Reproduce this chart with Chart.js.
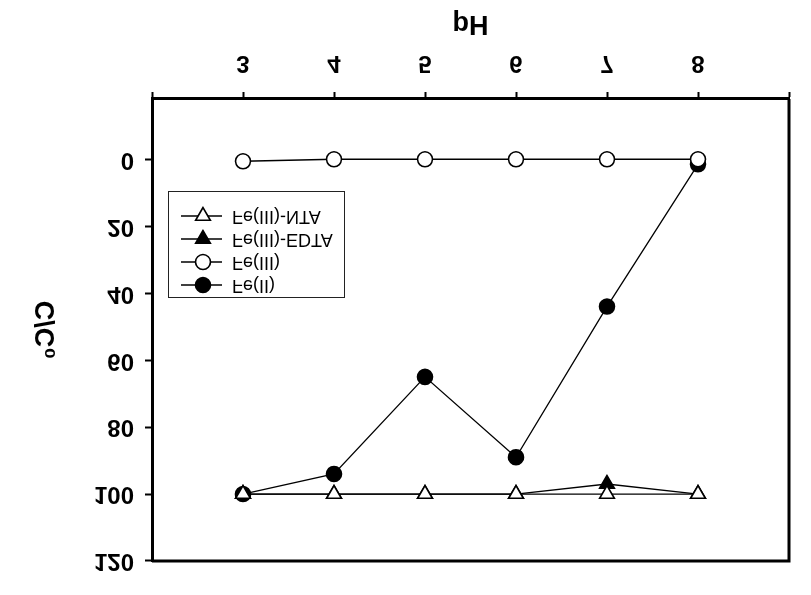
<!DOCTYPE html>
<html>
<head>
<meta charset="utf-8">
<script src="https://cdn.jsdelivr.net/npm/chart.js@4.4.0/dist/chart.umd.min.js"></script>
<style>
    html, body { margin: 0; padding: 0; background: #fff; }
    /* the reference is a vertically mirrored figure */
    #phChart { display: block; transform: scaleY(-1); }
</style>
</head>
<body>
<canvas id="phChart" width="811" height="595"></canvas>
<script>
// ============================================
// DATA
// ============================================

const phValues = [3, 4, 5, 6, 7, 8];
const feNTA = [100, 100, 100, 100, 100, 100];
const feEDTA = [100, 100, 100, 100, 97, 100];
const fe3 = [0.6, 0, 0, 0, 0, 0];
const fe2 = [100, 94, 65, 89, 44, 1.5];

const xTickValues = [2, 3, 4, 5, 6, 7, 8, 9];
const xTickLabels = ['', '3', '4', '5', '6', '7', '8', ''];
const yTickValues = [0, 20, 40, 60, 80, 100, 120];

const seriesLabels = ['Fe(III)-NTA', 'Fe(III)-EDTA', 'Fe(III)', 'Fe(II)'];

const tickFont = "'Liberation Sans', Arial, sans-serif";
const plainFont = "'Liberation Sans', Arial, sans-serif";

function toPoints(values) {
    return values.map((v, i) => ({ x: phValues[i], y: v }));
}

function makeSeries(label, values, style, filled) {
    return {
        label: label,
        data: toPoints(values),
        borderColor: '#000',
        borderWidth: 1.3,
        pointStyle: style,
        pointRotation: style === 'triangle' ? 180 : 0,
        pointRadius: style === 'triangle' ? 8.5 : 7.5,
        pointBorderWidth: 1.6,
        pointBorderColor: '#000',
        pointBackgroundColor: filled ? '#000' : '#fff',
        fill: false,
        tension: 0
    };
}

// ============================================
// PLUGINS
// ============================================

// closes the frame on the two sides without an axis
const framePlugin = {
    id: 'frame',
    afterDatasetsDraw(chart) {
        const { ctx, chartArea: a } = chart;
        ctx.save();
        ctx.strokeStyle = '#000';
        ctx.lineWidth = 3;
        ctx.beginPath();
        ctx.moveTo(a.left, a.top);
        ctx.lineTo(a.right, a.top);
        ctx.lineTo(a.right, a.bottom);
        ctx.stroke();
        ctx.restore();
    }
};

// boxed legend with line segment through each marker
const boxLegend = {
    id: 'boxLegend',
    afterDraw(chart) {
        const { ctx, chartArea: a } = chart;
        const left = a.left + 16;
        const top = a.top + 263;
        const w = 176, h = 106;
        ctx.save();
        ctx.fillStyle = '#fff';
        ctx.fillRect(left, top, w, h);
        ctx.strokeStyle = '#222';
        ctx.lineWidth = 1;
        ctx.strokeRect(left + 0.5, top + 0.5, w, h);

        const items = chart.data.datasets.slice().reverse();
        items.forEach((ds, i) => {
            const y = top + 13 + i * 23;
            ctx.strokeStyle = '#000';
            ctx.lineWidth = 1.3;
            ctx.beginPath();
            ctx.moveTo(left + 13, y);
            ctx.lineTo(left + 54, y);
            ctx.stroke();
            ctx.fillStyle = ds.pointBackgroundColor;
            ctx.strokeStyle = '#000';
            ctx.lineWidth = 1.6;
            Chart.helpers.drawPoint(ctx, {
                pointStyle: ds.pointStyle,
                rotation: ds.pointRotation,
                radius: ds.pointRadius,
                borderWidth: 1.6
            }, left + 35, y);
            ctx.fillStyle = '#000';
            ctx.font = '18px ' + plainFont;
            ctx.textBaseline = 'middle';
            ctx.fillText(ds.label, left + 64, y);
        });
        ctx.restore();
    }
};

// ============================================
// CHART
// ============================================

const ctx = document.getElementById('phChart').getContext('2d');

new Chart(ctx, {
    type: 'line',
    data: {
        datasets: [
            makeSeries(seriesLabels[0], feNTA, 'triangle', false),
            makeSeries(seriesLabels[1], feEDTA, 'triangle', true),
            makeSeries(seriesLabels[2], fe3, 'circle', false),
            makeSeries(seriesLabels[3], fe2, 'circle', true)
        ]
    },
    options: {
        responsive: false,
        animation: false,
        layout: { padding: { top: 34, right: 22, left: 0, bottom: 0 } },
        plugins: {
            legend: { display: false },
            tooltip: { enabled: false }
        },
        scales: {
            x: {
                type: 'linear',
                min: 2,
                max: 9,
                afterBuildTicks: (scale) => { scale.ticks = xTickValues.map(v => ({ value: v })); },
                afterFit: (scale) => { scale.height = 99; },
                ticks: {
                    color: '#000',
                    padding: 15,
                    font: { family: tickFont, size: 24, weight: 'bold' },
                    callback: (value) => xTickLabels[xTickValues.indexOf(value)] || ''
                },
                grid: {
                    drawOnChartArea: false,
                    drawTicks: true,
                    tickLength: 7,
                    tickWidth: 2,
                    color: '#000'
                },
                border: { display: true, color: '#000', width: 3 },
                title: {
                    display: true,
                    text: 'pH',
                    color: '#000',
                    font: { family: tickFont, size: 27, weight: 'bold' },
                    padding: { top: 0, bottom: 7 }
                }
            },
            y: {
                type: 'linear',
                min: -18,
                max: 120,
                afterBuildTicks: (scale) => { scale.ticks = yTickValues.map(v => ({ value: v })); },
                afterFit: (scale) => { scale.width = 152; },
                ticks: {
                    color: '#000',
                    padding: 11,
                    font: { family: tickFont, size: 24, weight: 'bold' }
                },
                grid: {
                    drawOnChartArea: false,
                    drawTicks: true,
                    tickLength: 7,
                    tickWidth: 2,
                    color: '#000'
                },
                border: { display: true, color: '#000', width: 3 },
                title: {
                    display: true,
                    text: 'C/C\u2080',
                    color: '#000',
                    font: { family: tickFont, size: 27, weight: 'bold' },
                    padding: { top: 30, bottom: 0 }
                }
            }
        }
    },
    plugins: [framePlugin, boxLegend]
});
</script>
</body>
</html>
